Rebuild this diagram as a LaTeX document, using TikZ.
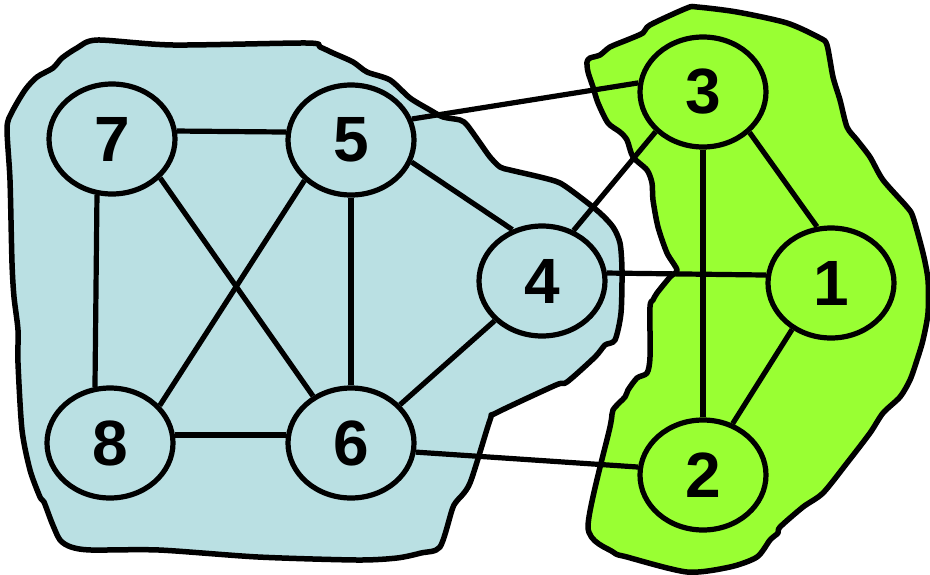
\documentclass[tikz,border=0pt]{standalone}
\usepackage{fontspec}
\setmainfont{Liberation Sans}
\usetikzlibrary{shapes.geometric}
\definecolor{bluefill}{RGB}{186,224,227}
\definecolor{greenfill}{RGB}{153,255,51}
\tikzset{
  blob/.style={draw=black, line width=5.5pt, line join=round},
  vx/.style={ellipse, draw=black, line width=5.2pt, minimum width=126pt, minimum height=110pt, inner sep=0pt,
    font=\fontsize{64}{70}\selectfont\bfseries},
  bvx/.style={vx, fill=bluefill},
  gvx/.style={vx, fill=greenfill},
  edge/.style={draw=black, line width=5.2pt}
}
\begin{document}
\begin{tikzpicture}[x=1pt, y=-1pt]
\useasboundingbox (0,0) rectangle (930,574);
% blue blob
\draw[blob, fill=bluefill] plot[smooth cycle, tension=0.45] coordinates {
(7,128) (12,112) (25,90) (37,77) (53,68) (62,58) (77,48) (97,40) (173,45) (307,43)
(320,47) (333,53) (353,62) (367,72) (390,80) (410,98) (430,110) (443,117) (460,120)
(467,125) (480,143) (490,157) (500,167) (510,170) (540,177) (560,183) (580,197)
(600,213) (613,227) (620,243) (622,270) (621,313) (615,340) (605,345) (595,357)
(567,382) (556,385) (496,413) (490,420) (470,483) (456,502) (452,510) (440,547)
(421,553) (397,558) (357,560) (258,557) (159,550) (91,550) (71,547) (60,540)
(52,523) (44,502) (40,497) (30,470) (22,430) (18,363) (18,330) (14,297) (12,263) (10,180)};
% green blob
\draw[blob, fill=greenfill] plot[smooth cycle, tension=0.45] coordinates {
(687,8) (697,7) (737,12) (787,23) (820,38) (827,45) (833,77) (840,100) (847,127)
(857,140) (870,157) (883,180) (907,207) (913,217) (923,253) (928,280) (928,313)
(923,340) (917,360) (910,380) (900,397) (883,413) (870,433) (847,463) (823,493)
(803,507) (780,527) (778,533) (770,540) (757,557) (730,567) (687,572) (627,557)
(613,552) (588,527) (610,427) (613,410) (625,397) (628,390) (637,378) (647,373)
(650,357) (650,307) (653,300) (657,293) (670,277) (677,270) (667,253) (658,227)
(653,200) (652,183) (647,170) (633,157) (627,140) (620,132) (608,123) (598,103)
(593,87) (588,72) (587,62) (590,58) (600,55) (610,47) (627,40) (643,33) (650,25)};
% nodes
\node[bvx] (n7) at (112,139) {7};
\node[bvx] (n5) at (351,140) {5};
\node[bvx] (n8) at (110,443) {8};
\node[bvx] (n6) at (351,443) {6};
\node[bvx] (n4) at (542,281) {4};
\node[gvx] (n3) at (703,92) {3};
\node[gvx] (n1) at (831,283) {1};
\node[gvx] (n2) at (703,475) {2};
% edges
\draw[edge] (n7.7) -- (n5.173);
\draw[edge] (n7.255) -- (n8.105);
\draw[edge] (n7.-39) -- (n6.129);
\draw[edge] (n5.221) -- (n8.37);
\draw[edge] (n5.270) -- (n6.90);
\draw[edge] (n5.19.5) -- (n3.172);
\draw[edge] (n5.-20.6) -- (n4.120.6);
\draw[edge] (n8.7) -- (n6.173);
\draw[edge] (n6.38.5) -- (n4.220);
\draw[edge] (n6.-8.6) -- (n2.173);
\draw[edge] (n4.58.6) -- (n3.220);
\draw[edge] (n4.7) -- (n1.173);
\draw[edge] (n3.270) -- (n2.90);
\draw[edge] (n3.-41) -- (n1.104);
\draw[edge] (n1.230) -- (n2.60);
\end{tikzpicture}
\end{document}
